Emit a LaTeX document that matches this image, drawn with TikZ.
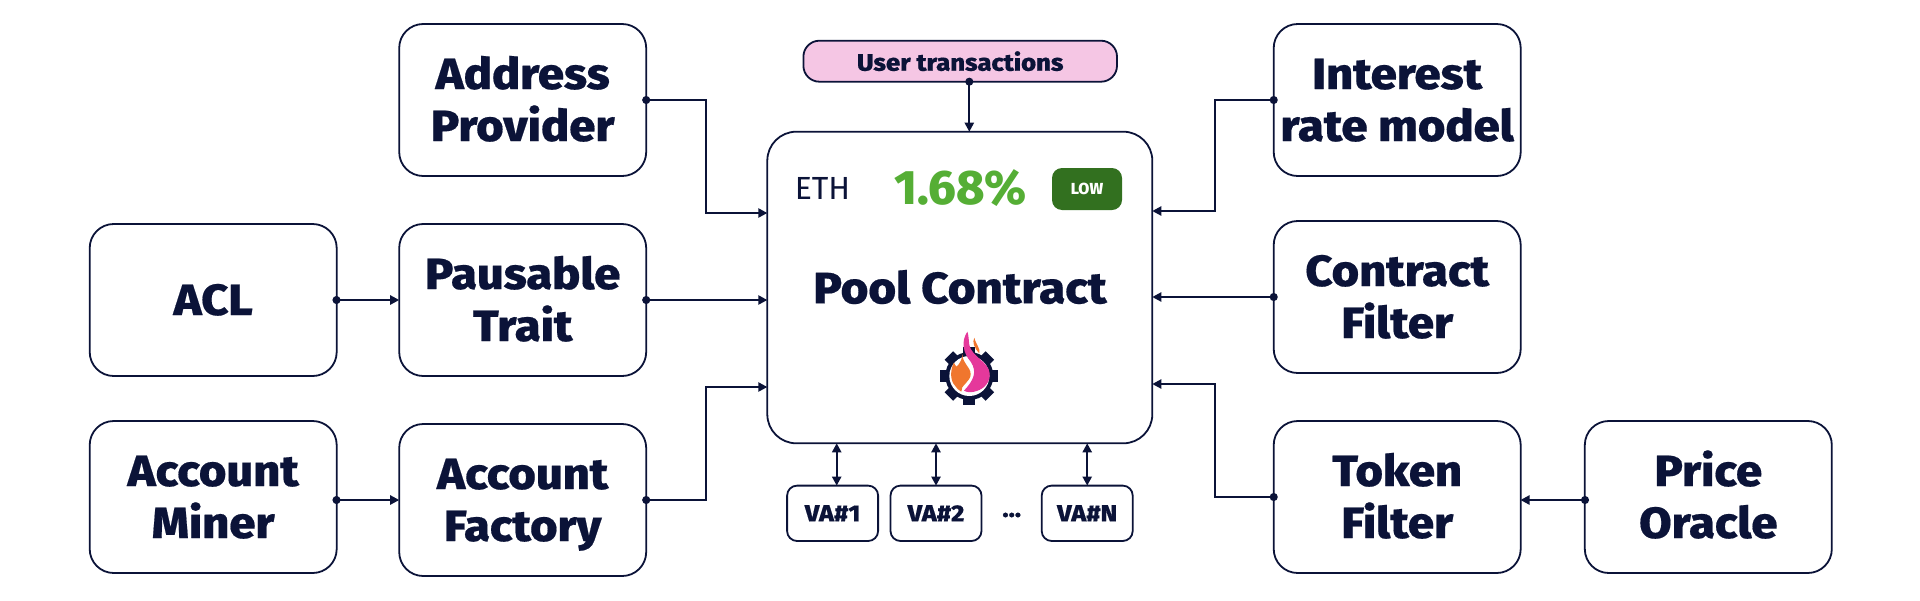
\documentclass[tikz,border=0pt]{standalone}
\usepackage{fontspec}
\setmainfont{Fira Sans}
\newfontfamily\heavyfont{Fira Sans ExtraBold}[FakeStretch=1.08,FakeBold=0.4]
\newfontfamily\ratefont{Fira Sans ExtraBold}
\usetikzlibrary{positioning,arrows.meta}
\definecolor{navy}{HTML}{0B1338}
\definecolor{lowgreen}{HTML}{32701F}
\definecolor{rategreen}{HTML}{55AE35}
\definecolor{userpink}{HTML}{F5C6E4}
\definecolor{flameorange}{HTML}{F0762E}
\definecolor{flamepink}{HTML}{E5389B}
\newcommand{\fixline}{\rule[-5pt]{0pt}{25pt}}
\newcommand{\twolines}[2]{\fixline #1\\\fixline #2}
\tikzset{
  module/.style={rectangle, rounded corners=12pt, draw=navy, line width=0.9pt, outer sep=0pt, inner sep=0pt,
    minimum width=123.5pt, minimum height=76pt, text=navy, align=center,
    font=\heavyfont\fontsize{21.8}{26}\selectfont},
  vabox/.style={rectangle, rounded corners=5pt, draw=navy, line width=0.9pt, outer sep=0pt, inner sep=0pt,
    minimum width=45.5pt, minimum height=27.7pt, text=navy, font=\heavyfont\fontsize{11.7}{14}\selectfont},
  link/.style={draw=navy, line width=0.9pt, {Circle[length=4pt]}-{Triangle[length=4.5pt,width=4.6pt]}, shorten <=-2pt},
  duplex/.style={draw=navy, line width=0.9pt, {Triangle[length=4.5pt,width=4.6pt]}-{Triangle[length=4.5pt,width=4.6pt]}}
}
\begin{document}
\begin{tikzpicture}[x=0.5pt,y=-0.5pt]
    \useasboundingbox (0,0) rectangle (1920,600);
    % left side
    \node[module] (addr) at (522.7,100) {\twolines{Address}{Provider}};
    \node[module] (pause) at (522.7,300) {\twolines{Pausable}{Trait}};
    \node[module] (factory) at (522.7,500) {\twolines{Account}{Factory}};
    \node[module] (acl) at (213.2,300) {\fixline ACL};
    \node[module] (miner) at (213.2,497) {\twolines{Account}{Miner}};
    % right side
    \node[module] (rate) at (1397.2,100) {\twolines{Interest}{rate model}};
    \node[module] (cfilter) at (1397.2,297) {\twolines{Contract}{Filter}};
    \node[module] (tfilter) at (1397.2,497) {\twolines{Token}{Filter}};
    \node[module] (oracle) at (1708.3,497) {\twolines{Price}{Oracle}};
    % pool
    \node[rectangle, rounded corners=14.5pt, draw=navy, line width=0.9pt, outer sep=0pt, minimum width=192.5pt, minimum height=155.8pt] (pool) at (959.8,287.5) {};
    \node[rectangle, rounded corners=8pt, draw=navy, fill=userpink, line width=0.9pt, outer sep=0pt, inner sep=0pt, minimum width=156.8pt, minimum height=20.5pt, text=navy, font=\heavyfont\fontsize{11.9}{14}\selectfont] (user) at (960.2,61.2) {User transactions};
    \node[text=navy, inner sep=0pt, font=\fontsize{16}{18}\selectfont] (eth) at (822.5,188.5) {ETH};
    \node[text=rategreen, inner sep=0pt, font=\ratefont\fontsize{24.2}{28}\selectfont] (rateval) at (960.5,188.5) {1.68\%};
    \node[rectangle, rounded corners=5pt, fill=lowgreen, text=white, outer sep=0pt, inner sep=0pt, minimum width=35pt, minimum height=21pt, font=\ratefont\fontsize{8}{10}\selectfont] (low) at (1087,189) {LOW};
    \node[text=navy, inner sep=0pt, font=\heavyfont\fontsize{22}{26}\selectfont] (title) at (960,287) {Pool Contract};
    % vault accounts
    \node[vabox] (va1) at (832.6,513.3) {VA\#1};
    \node[vabox] (va2) at (936,513.3) {VA\#2};
    \node[vabox] (van) at (1087.2,513.3) {VA\#N};
    \node[text=navy, inner sep=0pt, font=\heavyfont\fontsize{12}{14}\selectfont] (dots) at (1011.7,515) {...};
    % logo
    \begin{scope}[shift={(930,325)},scale=1/3]
      \foreach \ang in {0,45,...,315}
        \fill[navy, rotate around={\ang:(118,153)}] (100,153) rectangle (136,66);
      \fill[navy] (118,153) circle (72);
      \fill[white] (118,153) circle (60);
      \fill[flameorange] (97,85) .. controls (98,100) and (90,115) .. (80,125) .. controls (76,122) and (74,118) .. (72,113) .. controls (62,130) and (58,165) .. (75,182) .. controls (80,190) and (86,196) .. (94,200) .. controls (90,182) and (122,170) .. (122,148) .. controls (122,125) and (96,115) .. (97,85) -- cycle;
      \fill[flameorange] (133,38) .. controls (126,52) and (132,68) .. (148,85) .. controls (152,70) and (138,60) .. (133,38) -- cycle;
      \fill[flamepink] (112,20) .. controls (92,50) and (100,85) .. (122,110) .. controls (142,140) and (132,165) .. (102,197) .. controls (112,203) and (125,203) .. (140,198) .. controls (165,190) and (181,170) .. (179,145) .. controls (176,110) and (125,95) .. (118,60) .. controls (116,45) and (116,30) .. (112,20) -- cycle;
    \end{scope}
    % connector ends on the pool
    \coordinate (inaddr) at (767.3,213);
    \coordinate (infactory) at (767.3,387);
    \coordinate (inrate) at (1152.3,211);
    \coordinate (intoken) at (1152.3,384);
    \coordinate (userout) at (969.3,81.7);
    \coordinate (userin) at (969.3,131.7);
    \coordinate (aclout) at (336.5,300);
    \coordinate (minerout) at (336.5,500);
    \coordinate (oracleout) at (1585,500);
    \coordinate (tokenin) at (1520.5,500);
    % connectors
    \draw[link] (addr.east) -- (706,100) -- (706,213) -- (inaddr);
    \draw[link] (pause.east) -- (pause.east -| pool.west);
    \draw[link] (factory.east) -- (706,500) -- (706,387) -- (infactory);
    \draw[link] (aclout) -- (pause.west);
    \draw[link] (minerout) -- (factory.west);
    \draw[link] (rate.west) -- (1214.7,100) -- (1214.7,211) -- (inrate);
    \draw[link] (cfilter.west) -- (cfilter.west -| pool.east);
    \draw[link] (tfilter.west) -- (1214.7,497) -- (1214.7,384) -- (intoken);
    \draw[link] (oracleout) -- (tokenin);
    \draw[link] (userout) -- (userin);
    \draw[duplex] (va1.north -| 836.7,0) -- (pool.south -| 836.7,0);
    \draw[duplex] (va2.north) -- (va2.north |- pool.south);
    \draw[duplex] (van.north) -- (van.north |- pool.south);
  \end{tikzpicture}
\end{document}
